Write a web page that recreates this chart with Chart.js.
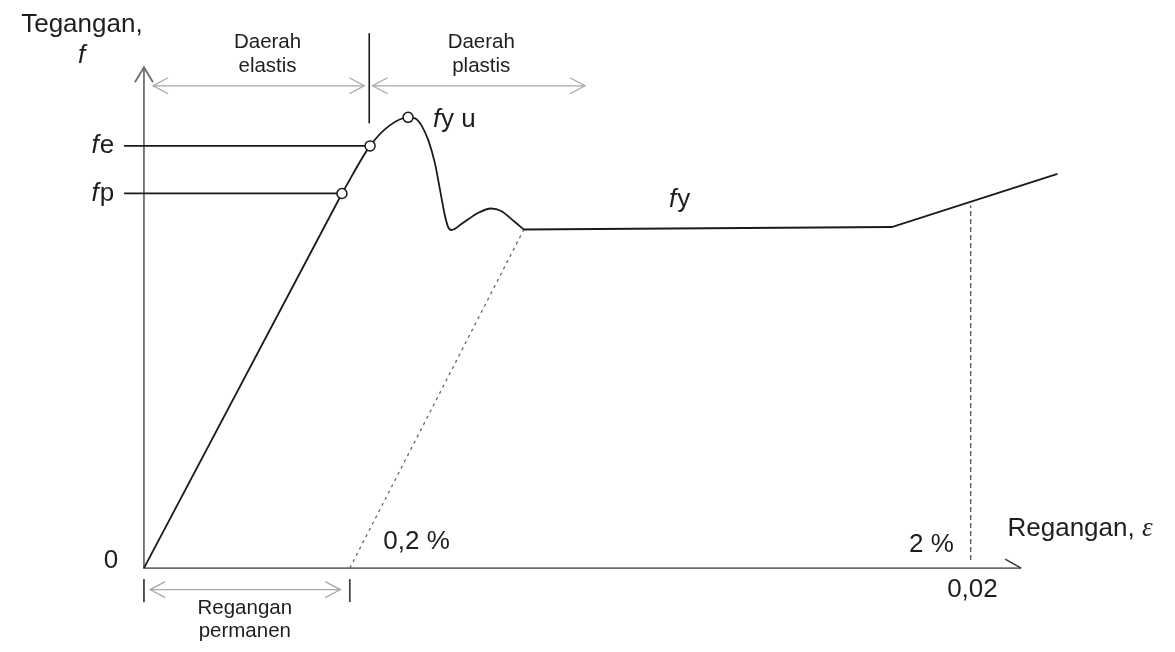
<!DOCTYPE html>
<html lang="id">
<head>
  <meta charset="UTF-8">
  <title>Diagram tegangan-regangan</title>
  <script src="https://cdn.jsdelivr.net/npm/chart.js"></script>
  <style>
    body {
      margin: 0;
      background-color: #ffffff;
    }
    canvas {
      display: block;
    }
  </style>
</head>
<body>

  <canvas id="ssChart" width="1175" height="652"></canvas>

  <script>
    // regangan dalam %, tegangan dalam satuan relatif (0..100)
    const elasticStrain = [0, 0.479];
    const elasticStress = [0, 74.8];

    const yieldStrain = [0.479, 0.547, 0.593, 0.639, 0.656, 0.672, 0.688, 0.704, 0.716, 0.728, 0.736, 0.744, 0.768, 0.808, 0.840, 0.864, 0.896, 0.919];
    const yieldStress = [74.8, 84.3, 88.3, 90.0, 89.8, 88.3, 85.4, 80.8, 75.6, 70.4, 68.1, 67.5, 68.7, 70.9, 71.8, 71.3, 69.2, 67.6];

    const hardenStrain = [0.919, 1.809, 2.210];
    const hardenStress = [67.6, 68.1, 78.7];

    const markLabels = ['fp', 'fe', 'fy u'];
    const markStrain = [0.479, 0.547, 0.639];
    const markStress = [74.8, 84.3, 90.0];

    const offsetStrain = [0.498, 0.919];
    const offsetStress = [0, 67.6];

    const twoPctStrain = [2.0, 2.0];
    const twoPctStress = [1.6, 72.4];

    const axisEndStrain = 2.122;
    const axisTopStress = 100;
    const permStrain = 0.498;
    const fyStress = 68.1;

    const toPts = (xs, ys) => xs.map((x, i) => ({ x, y: ys[i] }));

    const FONT = "'Liberation Sans', Arial, sans-serif";

    function openHead(ctx, tx, ty, dx, dy, len, half) {
      const n = Math.hypot(dx, dy);
      const ux = dx / n, uy = dy / n;
      const bx = tx - ux * len, by = ty - uy * len;
      ctx.beginPath();
      ctx.moveTo(bx - uy * half, by + ux * half);
      ctx.lineTo(tx, ty);
      ctx.lineTo(bx + uy * half, by - ux * half);
      ctx.stroke();
    }

    function dimArrow(ctx, x1, x2, y) {
      ctx.beginPath();
      ctx.moveTo(x1, y);
      ctx.lineTo(x2, y);
      ctx.stroke();
      openHead(ctx, x1, y, -1, 0, 15, 8);
      openHead(ctx, x2, y, 1, 0, 15, 8);
    }

    const overlay = {
      id: 'overlay',
      beforeDatasetsDraw(chart) {
        const ctx = chart.ctx;
        const sx = chart.scales.x, sy = chart.scales.y;
        const px = v => sx.getPixelForValue(v);
        const py = v => sy.getPixelForValue(v);
        ctx.save();

        // sumbu
        ctx.strokeStyle = '#6e6e6e';
        ctx.lineWidth = 1.8;
        ctx.beginPath();
        ctx.moveTo(px(0), py(axisTopStress));
        ctx.lineTo(px(0), py(0));
        ctx.lineTo(px(axisEndStrain), py(0));
        ctx.stroke();
        openHead(ctx, px(0), py(axisTopStress), 0, -1, 15, 9);
        ctx.strokeStyle = '#333';
        ctx.lineWidth = 1.4;
        ctx.beginPath();
        ctx.moveTo(px(axisEndStrain) - 16, py(0) - 9);
        ctx.lineTo(px(axisEndStrain), py(0));
        ctx.stroke();

        // panah dimensi
        ctx.strokeStyle = '#a8a8a8';
        ctx.lineWidth = 1.3;
        dimArrow(ctx, px(0.022), px(0.533), py(96.3));
        dimArrow(ctx, px(0.553), px(1.067), py(96.3));
        dimArrow(ctx, px(0.015), px(0.475), py(-4.3));

        // batas elastis / plastis
        ctx.strokeStyle = '#1a1a1a';
        ctx.lineWidth = 1.6;
        ctx.beginPath();
        ctx.moveTo(px(0.545), py(106.8));
        ctx.lineTo(px(0.545), py(88.8));
        ctx.stroke();

        // garis batas regangan permanen
        ctx.strokeStyle = '#444';
        ctx.lineWidth = 1.8;
        [0, permStrain].forEach(v => {
          ctx.beginPath();
          ctx.moveTo(px(v), py(-2.2));
          ctx.lineTo(px(v), py(-6.8));
          ctx.stroke();
        });
        ctx.restore();
      },
      afterDatasetsDraw(chart) {
        const ctx = chart.ctx;
        const sx = chart.scales.x, sy = chart.scales.y;
        const px = v => sx.getPixelForValue(v);
        const py = v => sy.getPixelForValue(v);
        ctx.save();
        ctx.fillStyle = '#1e1e1e';
        ctx.textBaseline = 'middle';

        const big = '26px ' + FONT;
        const bigIt = 'italic 26px ' + FONT;
        const small = '20.5px ' + FONT;

        function put(text, x, y, font, align) {
          ctx.font = font;
          ctx.textAlign = align || 'left';
          ctx.fillText(text, x, y);
        }
        // f italic + sisa teks
        function fLabel(rest, x, y, align) {
          ctx.font = bigIt;
          const w1 = ctx.measureText('f').width;
          ctx.font = big;
          const w2 = ctx.measureText(rest).width;
          const x0 = align === 'right' ? x - w1 - w2 - 1 : x;
          put('f', x0, y, bigIt);
          put(rest, x0 + w1 + 1, y, big);
        }

        put('Tegangan,', px(-0.297), py(108.4), big);
        put('f', px(-0.151), py(102.3), bigIt, 'center');

        put('Daerah', px(0.299), py(104.9), small, 'center');
        put('elastis', px(0.299), py(100.2), small, 'center');
        put('Daerah', px(0.816), py(104.9), small, 'center');
        put('plastis', px(0.816), py(100.2), small, 'center');

        fLabel('e', px(-0.072), py(markStress[1]), 'right');
        fLabel('p', px(-0.072), py(markStress[0]), 'right');
        fLabel('y u', px(0.699), py(89.6));
        fLabel('y', px(1.270), py(fyStress + 5.5));

        put('0', px(-0.080), py(1.4), big, 'center');
        put('0,2 %', px(0.579), py(5.3), big);
        put('2 %', px(1.959), py(4.7), big, 'right');
        put('0,02', px(1.943), py(-4.3), big);

        ctx.font = big;
        const rw = ctx.measureText('Regangan, ').width;
        put('Regangan, ', px(2.089), py(7.8), big);
        put('\u03B5', px(2.089) + rw, py(7.8), "italic 27px 'Liberation Serif', serif");

        put('Regangan', px(0.244), py(-8.0), small, 'center');
        put('permanen', px(0.244), py(-12.7), small, 'center');
        ctx.restore();
      }
    };

    const lineStyle = {
      showLine: true,
      pointRadius: 0,
      borderColor: '#1a1a1a',
      borderWidth: 1.8,
      fill: false,
      order: 2
    };

    new Chart(document.getElementById('ssChart'), {
      type: 'scatter',
      data: {
        datasets: [
          {
            label: 'titik',
            data: toPts(markStrain, markStress),
            showLine: false,
            pointRadius: 5,
            pointBackgroundColor: '#ffffff',
            pointBorderColor: '#1a1a1a',
            pointBorderWidth: 1.5,
            order: 0
          },
          { ...lineStyle, label: 'elastis', data: toPts(elasticStrain, elasticStress), tension: 0 },
          { ...lineStyle, label: 'leleh', data: toPts(yieldStrain, yieldStress), cubicInterpolationMode: 'monotone' },
          { ...lineStyle, label: 'pengerasan', data: toPts(hardenStrain, hardenStress), tension: 0 },
          { ...lineStyle, label: 'fe', data: [{ x: -0.048, y: markStress[1] }, { x: markStrain[1], y: markStress[1] }] },
          { ...lineStyle, label: 'fp', data: [{ x: -0.048, y: markStress[0] }, { x: markStrain[0], y: markStress[0] }] },
          { ...lineStyle, label: 'offset 0,2 %', data: toPts(offsetStrain, offsetStress), borderColor: '#666', borderWidth: 1.3, borderDash: [3, 4] },
          { ...lineStyle, label: '2 %', data: toPts(twoPctStrain, twoPctStress), borderColor: '#555', borderWidth: 1.3, borderDash: [5, 3] }
        ]
      },
      options: {
        responsive: false,
        animation: false,
        layout: { padding: 0 },
        plugins: {
          legend: { display: false },
          tooltip: { enabled: false }
        },
        scales: {
          x: { type: 'linear', display: false, min: -0.3325, max: 2.4785 },
          y: { type: 'linear', display: false, min: -15.46, max: 112.13 }
        }
      },
      plugins: [overlay]
    });
  </script>

</body>
</html>
